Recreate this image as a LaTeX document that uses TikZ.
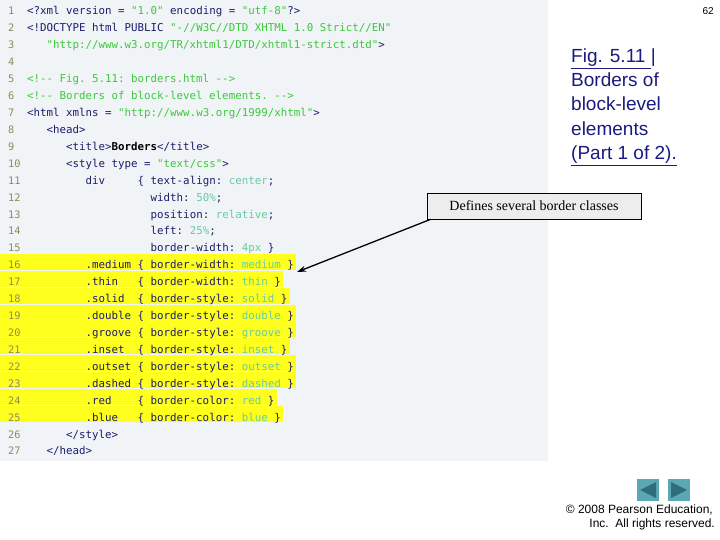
\documentclass[tikz,border=0pt]{standalone}
\usepackage{fontspec}
\usetikzlibrary{arrows.meta}
\setmainfont{Liberation Sans}
\newfontfamily\cf{DejaVu Sans Mono}
\newfontfamily\serifx{Liberation Serif}
\begin{document}
\definecolor{kw}{HTML}{1C1C6A}
\definecolor{st}{HTML}{3CC83C}
\definecolor{vl}{HTML}{66CCA0}
\definecolor{ln}{HTML}{8C8C5A}
\definecolor{bg}{HTML}{F1F4F7}
\definecolor{hl}{HTML}{FFFF1E}
\definecolor{lk}{HTML}{1A1A80}
\definecolor{btn}{HTML}{5BA8B4}
\definecolor{tri}{HTML}{2E6E78}
\newcommand{\Sx}[1]{\textcolor{st}{#1}}
\newcommand{\Vx}[1]{\textcolor{vl}{#1}}
\begin{tikzpicture}[x=1pt,y=-1pt,
  code/.style={anchor=base west,inner sep=0,font=\cf\fontsize{10.8}{12}\selectfont,text=kw},
  num/.style={anchor=base west,inner sep=0,font=\cf\fontsize{10.3}{12}\selectfont,text=ln},
  link/.style={anchor=base west,inner sep=0,font=\fontsize{19}{22}\selectfont,text=lk}]
\useasboundingbox (0,0) rectangle (720,540);
\fill[bg] (0,0) rectangle (548,461);
% highlights
\foreach \n/\w in {16/296,17/283,18/290,19/296,20/296,21/290,22/296,23/296,24/277,25/283}
  \fill[hl] (0,{11+(\n-1)*16.92-11}) rectangle (\w,{11+(\n-1)*16.92+5});
\foreach \n in {1,...,27}
  \node[num] (n\n) at (8,{15+(\n-1)*16.92}) {\n};
\def\Lx#1#2{\node[code] (l#1) at (27,{15+(#1-1)*16.92}) {#2};}
\Lx{1}{<?xml~version~=~\Sx{"1.0"}~encoding~=~\Sx{"utf-8"}?>}
\Lx{2}{<!DOCTYPE~html~PUBLIC~\Sx{"-//W3C//DTD~XHTML~1.0~Strict//EN"}}
\Lx{3}{~~~\Sx{"http://www.w3.org/TR/xhtml1/DTD/xhtml1-strict.dtd"}>}
\Lx{5}{\Sx{<!-{}-~Fig.~5.11:~borders.html~-{}->}}
\Lx{6}{\Sx{<!-{}-~Borders~of~block-level~elements.~-{}->}}
\Lx{7}{<html~xmlns~=~\Sx{"http://www.w3.org/1999/xhtml"}>}
\Lx{8}{~~~<head>}
\Lx{9}{~~~~~~<title>\textcolor{black}{\bfseries Borders}</title>}
\Lx{10}{~~~~~~<style~type~=~\Sx{"text/css"}>}
\Lx{11}{~~~~~~~~~div~~~~~\{~text-align:~\Vx{center};}
\Lx{12}{~~~~~~~~~~~~~~~~~~~width:~\Vx{50\%};}
\Lx{13}{~~~~~~~~~~~~~~~~~~~position:~\Vx{relative};}
\Lx{14}{~~~~~~~~~~~~~~~~~~~left:~\Vx{25\%};}
\Lx{15}{~~~~~~~~~~~~~~~~~~~border-width:~\Vx{4px}~\}}
\Lx{16}{~~~~~~~~~.medium~\{~border-width:~\Vx{medium}~\}}
\Lx{17}{~~~~~~~~~.thin~~~\{~border-width:~\Vx{thin}~\}}
\Lx{18}{~~~~~~~~~.solid~~\{~border-style:~\Vx{solid}~\}}
\Lx{19}{~~~~~~~~~.double~\{~border-style:~\Vx{double}~\}}
\Lx{20}{~~~~~~~~~.groove~\{~border-style:~\Vx{groove}~\}}
\Lx{21}{~~~~~~~~~.inset~~\{~border-style:~\Vx{inset}~\}}
\Lx{22}{~~~~~~~~~.outset~\{~border-style:~\Vx{outset}~\}}
\Lx{23}{~~~~~~~~~.dashed~\{~border-style:~\Vx{dashed}~\}}
\Lx{24}{~~~~~~~~~.red~~~~\{~border-color:~\Vx{red}~\}}
\Lx{25}{~~~~~~~~~.blue~~~\{~border-color:~\Vx{blue}~\}}
\Lx{26}{~~~~~~</style>}
\Lx{27}{~~~</head>}
% page number
\node[anchor=base east,inner sep=0,font=\fontsize{10}{12}\selectfont] (pg) at (714,15) {62};
% title
\node[link] (t1) at (571,63) {\underline{Fig. 5.11 }|};
\node[link] (t2) at (571,87) {Borders of};
\node[link] (t3) at (571,111) {block-level};
\node[link] (t4) at (571,136) {elements};
\node[link] (t5) at (571,160) {\underline{(Part 1 of 2).}};
% callout
\node[draw=black,fill=black!7,line width=0.6pt,minimum width=214pt,minimum height=26pt,inner sep=0,
  font=\serifx\fontsize{14}{16}\selectfont] (call) at (534,206) {Defines several border classes};
\coordinate (tip) at (297,272);
\coordinate (cs) at ([xshift=4pt]call.south west);
\draw[line width=1.3pt,-{Stealth[length=9pt,width=6pt]}] (cs) -- (tip);
% buttons
\node[fill=btn,minimum size=22pt,inner sep=0] (b1) at (648,490) {};
\node[fill=btn,minimum size=22pt,inner sep=0] (b2) at (679,490) {};
\fill[tri] (640,490) -- (656,482) -- (656,498) -- cycle;
\fill[tri] (687,490) -- (671,482) -- (671,498) -- cycle;
\node[anchor=base east,inner sep=0,font=\fontsize{12}{14}\selectfont] (c1) at (713,513) {\textcopyright\ 2008 Pearson Education,};
\node[anchor=base east,inner sep=0,font=\fontsize{12}{14}\selectfont] (c2) at (715,527) {Inc.\ \ All rights reserved.};
\end{tikzpicture}
\end{document}
